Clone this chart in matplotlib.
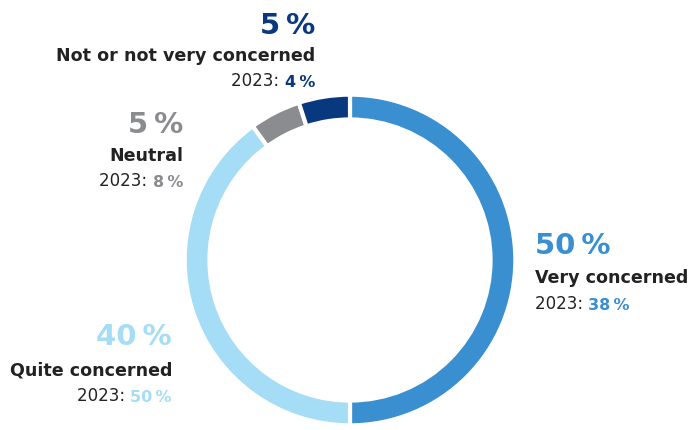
import matplotlib.pyplot as plt

# concern levels, 2024 share and 2023 share (percent)
labels = ["Very concerned", "Quite concerned", "Neutral", "Not or not very concerned"]
share = [50, 40, 5, 5]
share_2023 = [38, 50, 8, 4]
colors = ["#3a8fd0", "#a6ddf6", "#8b8c8f", "#08397e"]

W, H = 697, 431
fig = plt.figure(figsize=(W / 100, H / 100), dpi=100)
plt.rcParams['font.family'] = ['DejaVu Sans']

# donut: centre (350, 261) px from top-left, outer radius 167 px
cx, cy, r = 350, 261, 167
ax = fig.add_axes([(cx - r) / W, (H - cy - r) / H, 2 * r / W, 2 * r / H])
ax.pie(share, colors=colors, startangle=90, counterclock=False, radius=1,
       wedgeprops=dict(width=0.15, edgecolor='white', linewidth=3))
ax.set_xlim(-1.01, 1.01)
ax.set_ylim(-1.01, 1.01)
ax.set_aspect('equal')
ax.axis('off')

dark = "#222222"


def px(x, y):
    return x / W, 1 - y / H


# label blocks: anchor x, alignment, baselines of the three lines
blocks = [
    (535, 'left', (254, 283, 309)),
    (172, 'right', (345, 376, 402)),
    (183, 'right', (133, 161, 187)),
    (315, 'right', (34, 61, 87)),
]

for (x, ha, (y1, y2, y3)), lab, v, v23, c in zip(blocks, labels, share, share_2023, colors):
    fig.text(*px(x, y1), f"{v}\u2009%", color=c, fontsize=21, fontweight='bold',
             ha=ha, va='baseline')
    fig.text(*px(x, y2), lab, color=dark, fontsize=12.6, fontweight='bold',
             ha=ha, va='baseline')
    if ha == 'left':
        t = fig.text(*px(x, y3), "2023: ", color=dark, fontsize=12,
                     ha='left', va='baseline')
        ax.annotate(f"{v23}\u2009%", xy=(1, 0), xycoords=t, color=c, fontsize=11.5,
                    fontweight='bold', ha='left', va='bottom', annotation_clip=False)
    else:
        t = fig.text(*px(x, y3), f"{v23}\u2009%", color=c, fontsize=11.5, fontweight='bold',
                     ha='right', va='baseline')
        ax.annotate("2023: ", xy=(0, 0), xycoords=t, color=dark, fontsize=12,
                    ha='right', va='bottom', annotation_clip=False)

fig.savefig("out.png", dpi=100)
